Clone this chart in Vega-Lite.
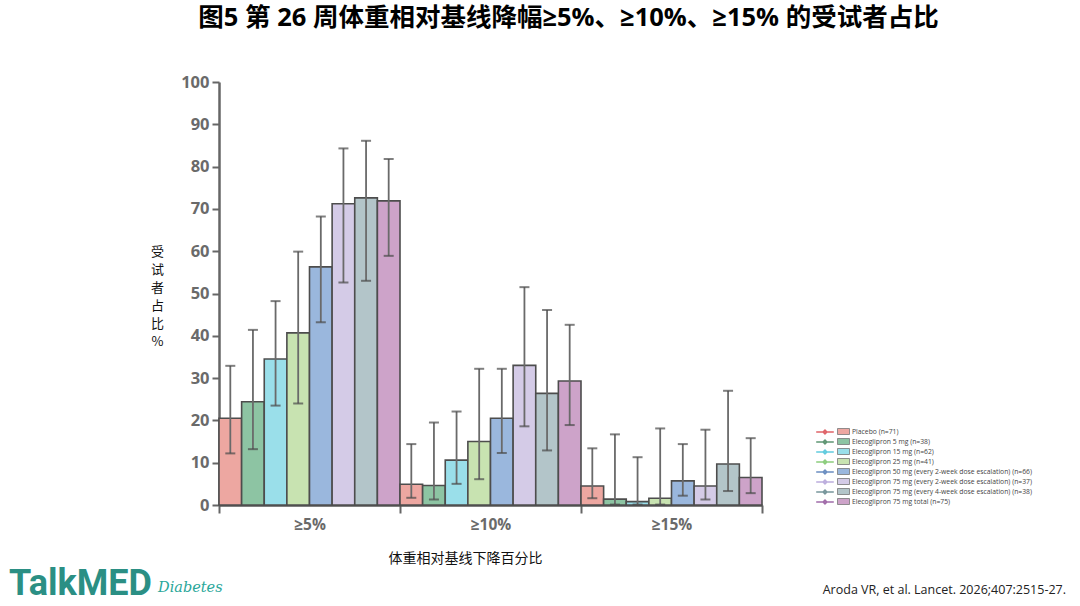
{
  "$schema": "https://vega.github.io/schema/vega-lite/v6.json",
  "width": 543,
  "height": 423,
  "autosize": "none",
  "padding": {"left": 219, "top": 82, "right": 318, "bottom": 101},
  "background": "white",
  "title": {
    "text": "图5 第 26 周体重相对基线降幅≥5%、≥10%、≥15% 的受试者占比",
    "font": "Open Sans, Noto Sans CJK SC",
    "fontSize": 25.5,
    "fontWeight": "bold",
    "color": "#000000",
    "anchor": "middle",
    "dx": 78,
    "offset": 43
  },
  "config": {
    "view": {"stroke": null},
    "axis": {"grid": false}
  },
  "data": {
    "values": [
      {"group": "≥5%", "series": "Placebo (n=71)", "value": 20.5, "lo": 12.2, "hi": 32.9},
      {"group": "≥5%", "series": "Elecoglipron 5 mg (n=38)", "value": 24.4, "lo": 13.2, "hi": 41.4},
      {"group": "≥5%", "series": "Elecoglipron 15 mg (n=62)", "value": 34.5, "lo": 23.5, "hi": 48.2},
      {"group": "≥5%", "series": "Elecoglipron 25 mg (n=41)", "value": 40.7, "lo": 24.0, "hi": 59.9},
      {"group": "≥5%", "series": "Elecoglipron 50 mg (every 2-week dose escalation) (n=66)", "value": 56.3, "lo": 43.2, "hi": 68.2},
      {"group": "≥5%", "series": "Elecoglipron 75 mg (every 2-week dose escalation) (n=37)", "value": 71.2, "lo": 52.6, "hi": 84.3},
      {"group": "≥5%", "series": "Elecoglipron 75 mg (every 4-week dose escalation) (n=38)", "value": 72.6, "lo": 53.0, "hi": 86.1},
      {"group": "≥5%", "series": "Elecoglipron 75 mg total (n=75)", "value": 71.9, "lo": 58.9, "hi": 81.8},
      {"group": "≥10%", "series": "Placebo (n=71)", "value": 4.9, "lo": 1.7, "hi": 14.4},
      {"group": "≥10%", "series": "Elecoglipron 5 mg (n=38)", "value": 4.6, "lo": 1.3, "hi": 19.5},
      {"group": "≥10%", "series": "Elecoglipron 15 mg (n=62)", "value": 10.6, "lo": 5.0, "hi": 22.1},
      {"group": "≥10%", "series": "Elecoglipron 25 mg (n=41)", "value": 15.0, "lo": 6.1, "hi": 32.2},
      {"group": "≥10%", "series": "Elecoglipron 50 mg (every 2-week dose escalation) (n=66)", "value": 20.5, "lo": 12.3, "hi": 32.2},
      {"group": "≥10%", "series": "Elecoglipron 75 mg (every 2-week dose escalation) (n=37)", "value": 33.0, "lo": 18.6, "hi": 51.5},
      {"group": "≥10%", "series": "Elecoglipron 75 mg (every 4-week dose escalation) (n=38)", "value": 26.4, "lo": 12.9, "hi": 46.1},
      {"group": "≥10%", "series": "Elecoglipron 75 mg total (n=75)", "value": 29.3, "lo": 18.9, "hi": 42.6},
      {"group": "≥15%", "series": "Placebo (n=71)", "value": 4.5, "lo": 1.6, "hi": 13.4},
      {"group": "≥15%", "series": "Elecoglipron 5 mg (n=38)", "value": 1.4, "lo": 0.1, "hi": 16.7},
      {"group": "≥15%", "series": "Elecoglipron 15 mg (n=62)", "value": 0.8, "lo": 0.1, "hi": 11.3},
      {"group": "≥15%", "series": "Elecoglipron 25 mg (n=41)", "value": 1.6, "lo": 0.1, "hi": 18.1},
      {"group": "≥15%", "series": "Elecoglipron 50 mg (every 2-week dose escalation) (n=66)", "value": 5.7, "lo": 2.2, "hi": 14.4},
      {"group": "≥15%", "series": "Elecoglipron 75 mg (every 2-week dose escalation) (n=37)", "value": 4.5, "lo": 1.3, "hi": 17.8},
      {"group": "≥15%", "series": "Elecoglipron 75 mg (every 4-week dose escalation) (n=38)", "value": 9.7, "lo": 3.3, "hi": 27.0},
      {"group": "≥15%", "series": "Elecoglipron 75 mg total (n=75)", "value": 6.5, "lo": 2.8, "hi": 15.8}
    ]
  },
  "encoding": {
    "x": {
      "field": "group",
      "type": "nominal",
      "sort": ["≥5%", "≥10%", "≥15%"],
      "scale": {"paddingInner": 0, "paddingOuter": 0},
      "axis": {
        "title": "体重相对基线下降百分比",
        "titleFont": "Noto Sans CJK SC",
        "titleFontSize": 14,
        "titleFontWeight": "normal",
        "titleColor": "#111111",
        "titleX": 246,
        "titleY": 53,
        "titleBaseline": "middle",
        "labelAngle": 0,
        "labelFont": "Open Sans",
        "labelFontSize": 15.5,
        "labelFontWeight": "bold",
        "labelColor": "#6a6a6a",
        "labelPadding": 4,
        "tickBand": "extent",
        "tickSize": 8,
        "tickColor": "#666666",
        "tickWidth": 2,
        "domainColor": "#555555",
        "domainWidth": 2.5
      }
    },
    "xOffset": {
      "field": "series",
      "type": "nominal",
      "sort": [
        "Placebo (n=71)",
        "Elecoglipron 5 mg (n=38)",
        "Elecoglipron 15 mg (n=62)",
        "Elecoglipron 25 mg (n=41)",
        "Elecoglipron 50 mg (every 2-week dose escalation) (n=66)",
        "Elecoglipron 75 mg (every 2-week dose escalation) (n=37)",
        "Elecoglipron 75 mg (every 4-week dose escalation) (n=38)",
        "Elecoglipron 75 mg total (n=75)"
      ],
      "scale": {"paddingInner": 0, "paddingOuter": 0}
    }
  },
  "layer": [
    {
      "mark": {"type": "bar", "stroke": "#4d4d4d", "strokeWidth": 1.6},
      "encoding": {
        "y": {
          "field": "value",
          "type": "quantitative",
          "scale": {"domain": [0, 100], "nice": false},
          "axis": {
            "values": [0, 10, 20, 30, 40, 50, 60, 70, 80, 90, 100],
            "title": ["受", "试", "者", "占", "比", "%"],
            "titleAngle": 0,
            "titleFont": "Noto Sans CJK SC",
            "titleFontSize": 13,
            "titleFontWeight": "normal",
            "titleColor": "#111111",
            "titleLineHeight": 18,
            "titleAlign": "center",
            "titleBaseline": "top",
            "titleX": -62,
            "titleY": 163,
            "labelFont": "Open Sans",
            "labelFontSize": 16.5,
            "labelFontWeight": "bold",
            "labelColor": "#6a6a6a",
            "labelPadding": 3,
            "tickSize": 7,
            "tickColor": "#666666",
            "tickWidth": 2,
            "domainColor": "#666666",
            "domainWidth": 2.5
          }
        },
        "color": {
          "field": "series",
          "type": "nominal",
          "scale": {
            "domain": [
              "Placebo (n=71)",
              "Elecoglipron 5 mg (n=38)",
              "Elecoglipron 15 mg (n=62)",
              "Elecoglipron 25 mg (n=41)",
              "Elecoglipron 50 mg (every 2-week dose escalation) (n=66)",
              "Elecoglipron 75 mg (every 2-week dose escalation) (n=37)",
              "Elecoglipron 75 mg (every 4-week dose escalation) (n=38)",
              "Elecoglipron 75 mg total (n=75)"
            ],
            "range": ["#eda7a1", "#8dc4a3", "#9adfea", "#c8e3b1", "#9ab7dd", "#d4cbe7", "#b3c5c9", "#cda3c9"]
          },
          "legend": {
            "title": null,
            "orient": "none",
            "legendX": 620,
            "legendY": 345,
            "symbolType": "M-1.5,-0.75H1.5V0.75H-1.5Z",
            "symbolSize": 64,
            "symbolStrokeColor": "#777777",
            "symbolStrokeWidth": 0.8,
            "labelFont": "Open Sans",
            "labelFontSize": 6.8,
            "labelColor": "#444444",
            "labelLimit": 300,
            "rowPadding": -1.3,
            "labelOffset": 4
          }
        }
      }
    },
    {
      "transform": [{"filter": "false"}],
      "mark": {"type": "point", "filled": false},
      "encoding": {
        "y": {"field": "value", "type": "quantitative"},
        "stroke": {
          "field": "series",
          "type": "nominal",
          "scale": {
            "domain": ["m1", "m2", "m3", "m4", "m5", "m6", "m7", "m8"],
            "range": ["#d2232a", "#1d6b3a", "#1fb6d1", "#5cb848", "#2e5fa8", "#a08cd0", "#3f6b73", "#7a2f86"]
          },
          "legend": {
            "title": null,
            "orient": "none",
            "legendX": 601,
            "legendY": 345,
            "symbolType": "M-2.2,0H2.2M0,-0.5L0.5,0L0,0.5L-0.5,0Z",
            "symbolSize": 64,
            "symbolStrokeWidth": 1.4,
            "labelFont": "Open Sans",
            "labelFontSize": 6.8,
            "labelOpacity": 0,
            "labelColor": "#ffffff",
            "rowPadding": -1.3
          }
        }
      }
    },
    {
      "mark": {"type": "rule", "color": "#6a6a6a", "strokeWidth": 1.8},
      "encoding": {
        "y": {"field": "lo", "type": "quantitative"},
        "y2": {"field": "hi"}
      }
    },
    {
      "mark": {"type": "tick", "orient": "horizontal", "size": 10, "thickness": 2, "color": "#4a4a4a"},
      "encoding": {
        "y": {"field": "hi", "type": "quantitative"}
      }
    },
    {
      "mark": {"type": "tick", "orient": "horizontal", "size": 10, "thickness": 2, "color": "#4a4a4a"},
      "encoding": {
        "y": {"field": "lo", "type": "quantitative"}
      }
    },
    {
      "data": {"values": [{"label": "TalkMED"}]},
      "mark": {"type": "text", "x": -210, "y": 513, "align": "left", "baseline": "alphabetic", "font": "Roboto", "fontWeight": "bold", "fontSize": 36, "color": "#2b8f84"},
      "encoding": {"text": {"field": "label"}, "x": null, "xOffset": null}
    },
    {
      "data": {"values": [{"label": "Diabetes"}]},
      "mark": {"type": "text", "x": -61, "y": 510, "align": "left", "baseline": "alphabetic", "font": "DejaVu Serif", "fontStyle": "italic", "fontSize": 14.5, "color": "#2aa79a"},
      "encoding": {"text": {"field": "label"}, "x": null, "xOffset": null}
    },
    {
      "data": {"values": [{"label": "Aroda VR, et al. Lancet. 2026;407:2515-27."}]},
      "mark": {"type": "text", "x": 847, "y": 508, "align": "right", "baseline": "middle", "font": "Open Sans", "fontSize": 12.5, "color": "#222222"},
      "encoding": {"text": {"field": "label"}, "x": null, "xOffset": null}
    }
  ]
}
